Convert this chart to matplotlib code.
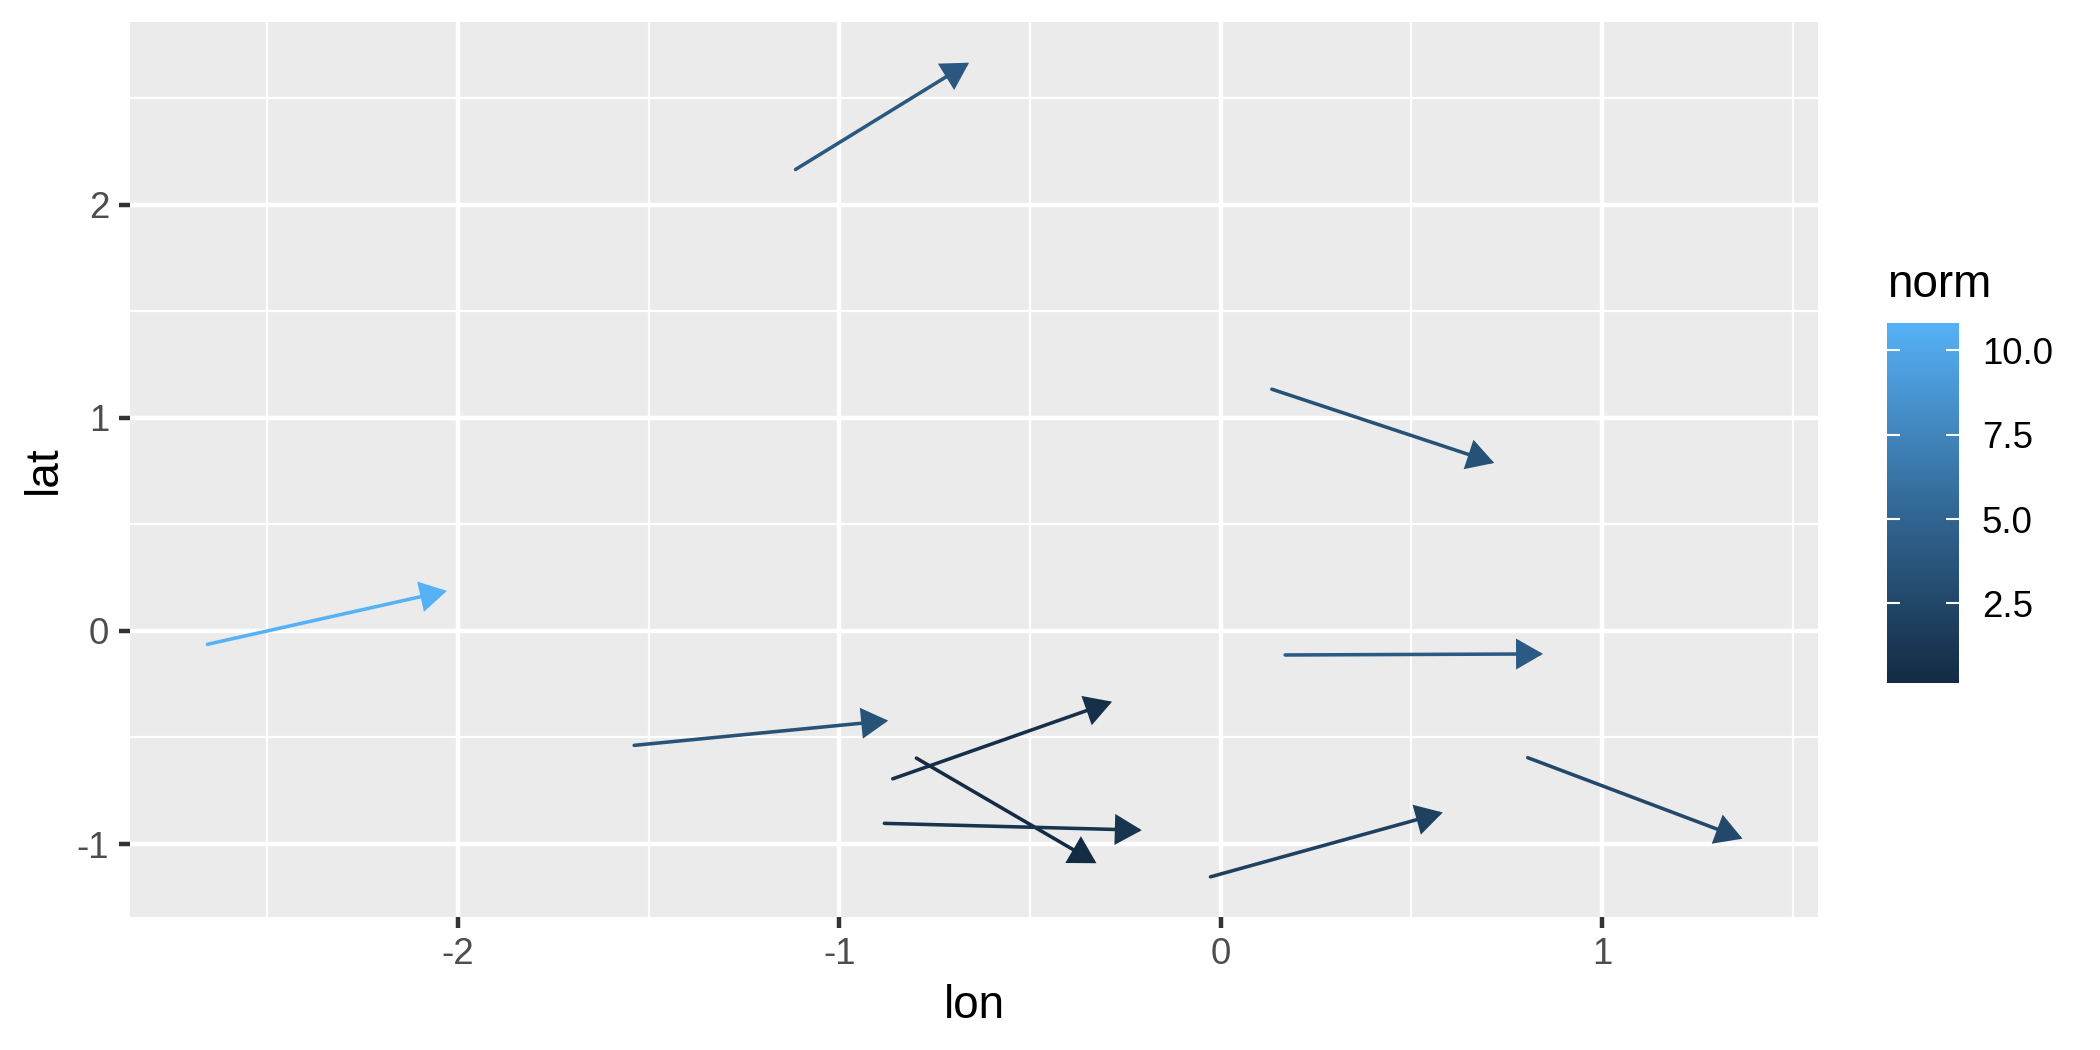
import numpy as np
import matplotlib
matplotlib.use("Agg")
import matplotlib.pyplot as plt
from matplotlib.patches import FancyArrowPatch
from matplotlib.colors import LinearSegmentedColormap, Normalize
from matplotlib.ticker import MultipleLocator, FormatStrFormatter
import matplotlib.cm as cm

plt.rcParams["font.family"] = ["Liberation Sans", "DejaVu Sans"]
plt.rcParams["axes.unicode_minus"] = False

# Vektoru dati (sākums -> gals) un norma
lon = [-1.115, 0.134, -2.657, 0.169, -1.538, -0.860, -0.798, -0.882, -0.027, 0.805]
lat = [2.165, 1.134, -0.063, -0.113, -0.537, -0.694, -0.597, -0.903, -1.154, -0.595]
lon_end = [-0.660, 0.717, -2.029, 0.845, -0.872, -0.285, -0.326, -0.207, 0.582, 1.368]
lat_end = [2.666, 0.788, 0.188, -0.108, -0.421, -0.332, -1.090, -0.935, -0.852, -0.975]
norm = [4.0, 3.4, 10.81, 4.2, 3.5, 0.6, 0.14, 0.9, 2.0, 2.6]

x_ticks = [-2, -1, 0, 1]
y_ticks = [-1, 0, 1, 2]
cbar_ticks = [2.5, 5.0, 7.5, 10.0]

W, H = 2100, 1050
fig = plt.figure(figsize=(7, 3.5), dpi=300)
ax = fig.add_axes([130 / W, 1 - 916.7 / H, (1818 - 130) / W, (916.7 - 22) / H])
ax.set_facecolor("#EBEBEB")
for s in ax.spines.values():
    s.set_visible(False)

ax.set_xlim(-2.860, 1.566)
ax.set_ylim(-1.341, 2.857)
ax.xaxis.set_major_locator(MultipleLocator(1))
ax.yaxis.set_major_locator(MultipleLocator(1))
ax.xaxis.set_minor_locator(MultipleLocator(0.5))
ax.yaxis.set_minor_locator(MultipleLocator(0.5))
ax.xaxis.set_major_formatter(FormatStrFormatter("%d"))
ax.yaxis.set_major_formatter(FormatStrFormatter("%d"))
ax.grid(which="major", color="white", linewidth=1.07)
ax.grid(which="minor", color="white", linewidth=0.53)
ax.set_axisbelow(True)
ax.tick_params(which="major", length=2.75, width=1.07, color="#333333",
               labelsize=8.8, labelcolor="#4D4D4D", pad=2.2)
ax.tick_params(which="minor", length=0)

ax.set_xlabel("lon", fontsize=11, labelpad=2.75)
ax.set_ylabel("lat", fontsize=11, labelpad=2.75)

# ggplot noklusējuma gradients
cmap = LinearSegmentedColormap.from_list("gg", ["#132B43", "#336A98", "#56B1F7"])
nrm = Normalize(vmin=min(norm), vmax=max(norm))

for i in range(len(lon)):
    arr = FancyArrowPatch((lon[i], lat[i]), (lon_end[i], lat_end[i]),
                          arrowstyle="-|>,head_length=0.4,head_width=0.23",
                          mutation_scale=13, color=cmap(nrm(norm[i])),
                          lw=0.85, shrinkA=0, shrinkB=0, joinstyle="miter",
                          zorder=3)
    ax.add_patch(arr)

# Krāsu skala
cax = fig.add_axes([1887 / W, 1 - 683 / H, 72 / W, 360 / H])
sm = cm.ScalarMappable(norm=nrm, cmap=cmap)
cb = fig.colorbar(sm, cax=cax)
cb.outline.set_visible(False)
cb.set_ticks(cbar_ticks)
cb.ax.yaxis.set_major_formatter(FormatStrFormatter("%.1f"))
cb.minorticks_off()
cax.tick_params(which="major", direction="in", left=True, right=True,
                length=3.1, width=0.5, color="white", labelsize=8.8,
                labelcolor="black", pad=5.5)
fig.text(1887 / W, 1 - 297 / H, "norm", fontsize=11, ha="left", va="baseline")

fig.savefig("out.png", dpi=300, facecolor="white")
